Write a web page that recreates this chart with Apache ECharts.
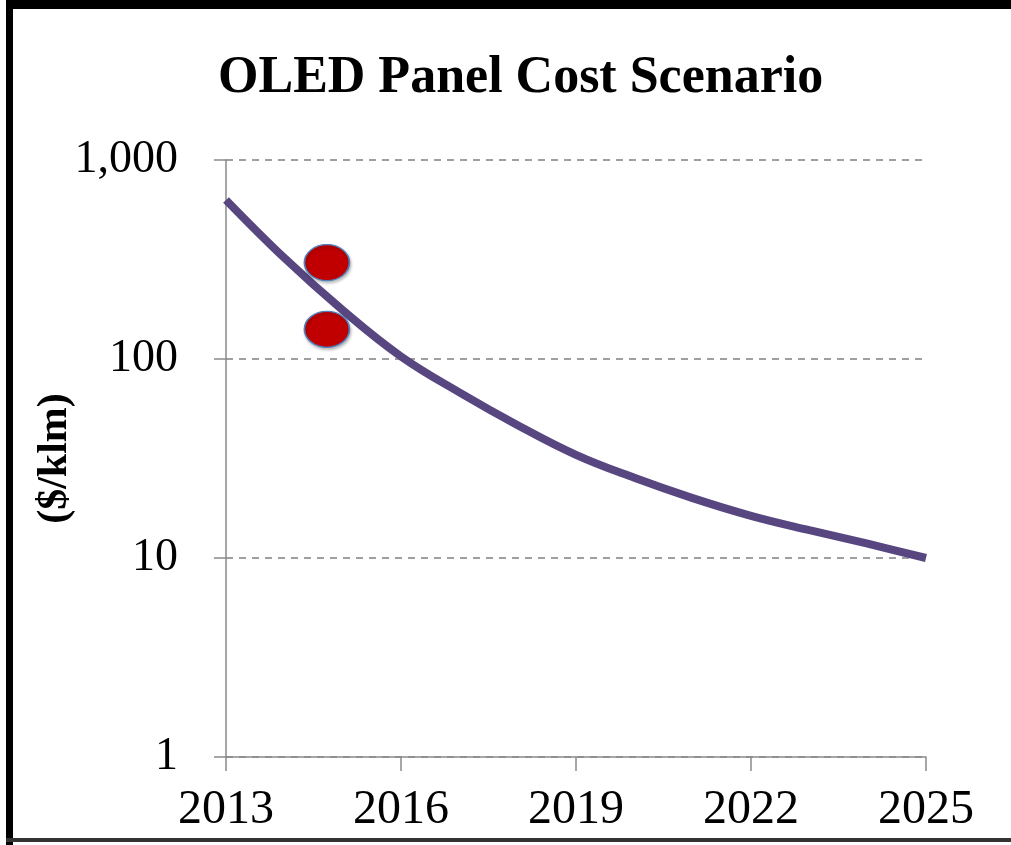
<!DOCTYPE html>
<html>
<head>
<meta charset="utf-8">
<script src="https://cdn.jsdelivr.net/npm/echarts@6/dist/echarts.min.js"></script>
<style>
  html, body { margin: 0; padding: 0; background: #fff; }
  #wrap { position: relative; width: 1011px; height: 845px; overflow: hidden; background: #fff; }
  #chart { position: absolute; left: 0; top: 0; width: 1011px; height: 845px; }
  .bt { position: absolute; left: 6px; top: 0; width: 1005px; height: 9px; background: #000; }
  .bl { position: absolute; left: 6px; top: 0; width: 7px; height: 845px; background: #000; }
  .bb { position: absolute; left: 6px; top: 838px; width: 1005px; height: 4px; background: #333; }
</style>
</head>
<body>
<div id="wrap">
  <div id="chart"></div>
  <div class="bt"></div><div class="bl"></div><div class="bb"></div>
</div>
<script>
// ---- data ----
const title = 'OLED Panel Cost Scenario';
const yAxisName = '($/klm)';
const years = [2013, 2014, 2015, 2016, 2017, 2018, 2019, 2020, 2021, 2022, 2023, 2024, 2025];
const cost = [630, 322, 176, 103, 68, 46.5, 33, 25.3, 20, 16.3, 13.8, 11.8, 10];
const markerYear = [2014.73, 2014.73];
const markerCost = [305, 141];
const xTicks = [2013, 2016, 2019, 2022, 2025];

const serif = '"Liberation Serif", "DejaVu Serif", serif';
const chart = echarts.init(document.getElementById('chart'), null, { renderer: 'canvas' });
chart.setOption({
  backgroundColor: '#fff',
  animation: false,
  title: {
    text: title,
    left: 213,
    top: 48,
    textStyle: { fontFamily: serif, fontWeight: 'bold', fontSize: 52, color: '#000' }
  },
  grid: { left: 226, right: 85, top: 160, bottom: 88, containLabel: false },
  xAxis: {
    type: 'value',
    min: 2013, max: 2025, interval: 3,
    axisLine: { show: true, lineStyle: { color: '#8a8a8a', width: 1.5 } },
    axisTick: { show: true, length: 14, lineStyle: { color: '#8a8a8a', width: 1.5 } },
    splitLine: { show: false },
    axisLabel: {
      margin: 29,
      fontFamily: serif, fontSize: 48, color: '#000',
      formatter: v => xTicks.includes(v) ? String(v) : ''
    }
  },
  yAxis: {
    type: 'log', logBase: 10, min: 1, max: 1000,
    name: yAxisName,
    nameLocation: 'middle',
    nameRotate: 90,
    nameGap: 150,
    nameMoveOverlap: false,
    nameTextStyle: { fontFamily: serif, fontWeight: 'bold', fontSize: 42, color: '#000' },
    axisLine: { show: true, lineStyle: { color: '#8a8a8a', width: 1.5 } },
    axisTick: { show: true, length: 12, lineStyle: { color: '#8a8a8a', width: 1.5 } },
    splitLine: { show: true, lineStyle: { color: '#808080', width: 1.5, type: [7, 6] } },
    axisLabel: {
      margin: 48,
      fontFamily: serif, fontSize: 46, color: '#000',
      formatter: v => Number(v).toLocaleString('en-US')
    }
  },
  series: [
    {
      type: 'line',
      data: years.map((y, i) => [y, cost[i]]),
      smooth: 0.4,
      showSymbol: false,
      lineStyle: { color: '#574680', width: 8 },
      z: 2
    },
    {
      type: 'scatter',
      data: markerYear.map((y, i) => [y, markerCost[i]]),
      symbol: 'circle',
      symbolSize: [45, 36],
      itemStyle: {
        color: '#c00000',
        opacity: 1,
        borderColor: '#4f81bd',
        borderWidth: 1.5,
        shadowColor: 'rgba(0,0,0,0.25)',
        shadowBlur: 3,
        shadowOffsetX: 1,
        shadowOffsetY: 2
      },
      z: 3
    }
  ]
});
</script>
</body>
</html>
